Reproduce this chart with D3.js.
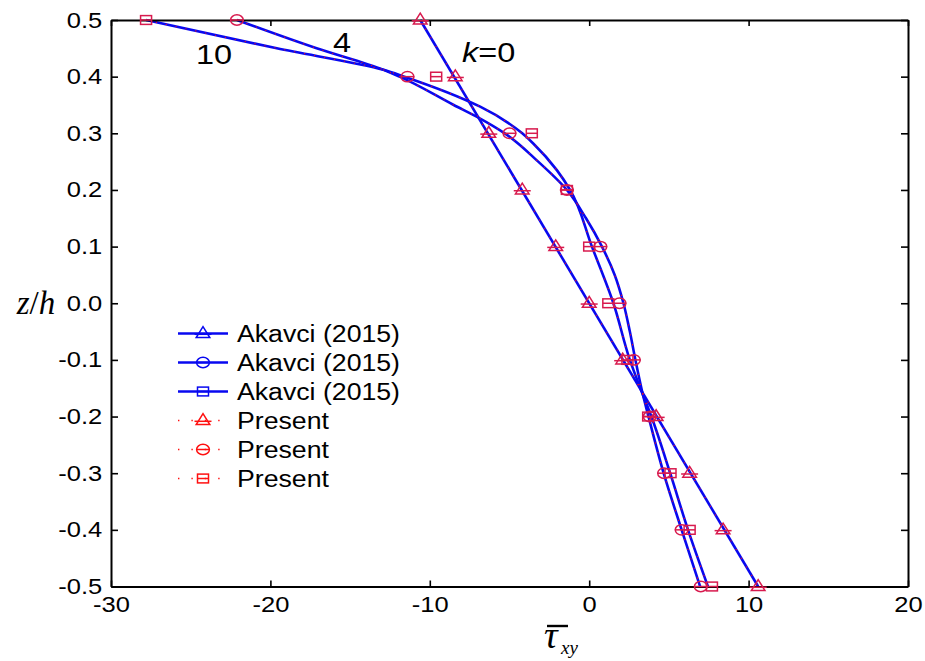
<!DOCTYPE html>
<html>
<head>
<meta charset="utf-8">
<script src="https://cdn.jsdelivr.net/npm/d3@7"></script>
<style>
  body { margin: 0; background: #fff; }
  svg { display: block; }
</style>
</head>
<body>
<svg id="chart" width="925" height="661"></svg>
<script>
// Through-thickness positions where the present solution is sampled
const zLevels = [0.5, 0.4, 0.3, 0.2, 0.1, 0.0, -0.1, -0.2, -0.3, -0.4, -0.5];

// Present results (markers), one value per z level
const presentK0  = [-10.6, -8.4, -6.3, -4.2, -2.1, 0.0, 2.1, 4.2, 6.3, 8.4, 10.6];
const presentK4  = [-22.1, -11.4, -5.0, -1.4, 0.7, 1.9, 2.8, 3.8, 4.7, 5.8, 7.0];
const presentK10 = [-27.8, -9.6, -3.6, -1.4, 0.0, 1.2, 2.4, 3.7, 5.1, 6.3, 7.7];

// Akavci (2015) profiles as [z/h, shear stress] pairs
const akavciK0 = [[0.5, -10.6], [-0.5, 10.6]];
const akavciK4 = [
  [0.5, -22.1], [0.45, -17.1], [0.412, -12.9], [0.4, -11.9], [0.35, -8.5],
  [0.326, -6.84], [0.3, -5.3], [0.25, -3.2], [0.2, -1.4], [0.15, -0.2],
  [0.1, 0.8], [0.05, 1.6], [0.0, 2.15], [-0.05, 2.55], [-0.1, 2.9],
  [-0.153, 3.3], [-0.2, 3.72], [-0.3, 4.67], [-0.4, 5.8], [-0.5, 6.96]
];
const akavciK10 = [
  [0.5, -27.8], [0.45, -19.6], [0.412, -12.9], [0.4, -11.6], [0.347, -6.84],
  [0.3, -4.2], [0.282, -3.51], [0.235, -2.03], [0.2, -1.2], [0.1, 0.17],
  [0.0, 1.52], [-0.1, 2.55], [-0.153, 3.25], [-0.2, 3.9], [-0.3, 5.08],
  [-0.4, 6.2], [-0.5, 7.45]
];

const xTicks = [-30, -20, -10, 0, 10, 20];
const yTicks = [0.5, 0.4, 0.3, 0.2, 0.1, 0.0, -0.1, -0.2, -0.3, -0.4, -0.5];
const legendLabels = ["Akavci (2015)", "Akavci (2015)", "Akavci (2015)", "Present", "Present", "Present"];
const legendSymbols = ["triangle", "circle", "square", "triangle", "circle", "square"];

const BLUE = "#0808f0";
const RED = "#ff1010";
const MARK = "#d81a4e";
const SANS = "'Liberation Sans', Arial, sans-serif";
const SERIF = "'Liberation Serif', 'Times New Roman', serif";
const STRETCH = 1.16;

const svg = d3.select("#chart");
const x = d3.scaleLinear().domain([-30, 20]).range([111, 908]);
const y = d3.scaleLinear().domain([-0.5, 0.5]).range([586.5, 20]);

// plain hyphen-minus for negative tick labels
const fmtX = d => String(d3.format("d")(d)).replace("\u2212", "-");
const fmtY = d => String(d3.format(".1f")(d)).replace("\u2212", "-");

const line = d3.line()
  .x(d => x(d[1]))
  .y(d => y(d[0]))
  .curve(d3.curveMonotoneY);

const profiles = [akavciK0, akavciK4, akavciK10];

// Akavci curves: solid blue
svg.append("g").selectAll("path").data(profiles).join("path")
  .attr("d", line)
  .attr("fill", "none")
  .attr("stroke", BLUE)
  .attr("stroke-width", 2.6);

// Present curves: red dotted on top of the blue ones
svg.append("g").selectAll("path").data(profiles).join("path")
  .attr("d", line)
  .attr("fill", "none")
  .attr("stroke", RED)
  .attr("stroke-width", 1.1)
  .attr("stroke-dasharray", "1.1,9");

// Axes with inward ticks on all four sides
function styleAxis(g) {
  g.select(".domain").attr("stroke", "#000").attr("stroke-width", 2);
  g.selectAll(".tick line").attr("stroke", "#000").attr("stroke-width", 1.6);
  g.selectAll(".tick text")
    .attr("fill", "#000")
    .style("font-family", SANS)
    .style("font-size", "22px");
}

svg.append("g")
  .attr("transform", `translate(0,${y(-0.5)})`)
  .call(d3.axisBottom(x).tickValues(xTicks).tickSize(-6).tickSizeOuter(0).tickPadding(10)
    .tickFormat(fmtX))
  .call(styleAxis)
  .call(g => g.selectAll(".tick text").attr("transform", `scale(${STRETCH},1)`));

svg.append("g")
  .attr("transform", `translate(0,${y(0.5)})`)
  .call(d3.axisTop(x).tickValues(xTicks).tickSize(-6).tickSizeOuter(0).tickFormat(""))
  .call(styleAxis);

svg.append("g")
  .attr("transform", `translate(${x(-30)},0)`)
  .call(d3.axisLeft(y).tickValues(yTicks).tickSize(-7).tickSizeOuter(0).tickPadding(7.5)
    .tickFormat(fmtY))
  .call(styleAxis)
  .call(g => g.selectAll(".tick text").attr("transform", `scale(${STRETCH},1)`));

svg.append("g")
  .attr("transform", `translate(${x(20)},0)`)
  .call(d3.axisRight(y).tickValues(yTicks).tickSize(-7).tickSizeOuter(0).tickFormat(""))
  .call(styleAxis);

// Marker shapes, each with a bar through its centre
function drawMarker(g, kind, color) {
  g.attr("fill", "none").attr("stroke", color).attr("stroke-width", 1.5);
  if (kind === "triangle") {
    g.append("path").attr("d", "M0,-6.8L6.8,4L-6.8,4Z");
    g.append("path").attr("d", "M-8.5,0.8H8.5");
  } else if (kind === "circle") {
    g.append("ellipse").attr("rx", 6.4).attr("ry", 5.2);
    g.append("path").attr("d", "M-6.8,0H6.8");
  } else {
    g.append("rect").attr("x", -5.5).attr("y", -4.4).attr("width", 11).attr("height", 8.8);
    g.append("path").attr("d", "M-5.5,0H5.5");
  }
}

const presentSets = [
  { values: presentK0, kind: "triangle" },
  { values: presentK4, kind: "circle" },
  { values: presentK10, kind: "square" }
];

presentSets.forEach(set => {
  const pts = zLevels.map((z, i) => [z, set.values[i]]);
  svg.append("g").selectAll("g").data(pts).join("g")
    .attr("transform", d => `translate(${x(d[1])},${y(d[0])})`)
    .each(function () { drawMarker(d3.select(this), set.kind, MARK); });
});

// Curve labels for the power-law index
function stretchedText(px, py, size, family) {
  return svg.append("text")
    .attr("transform", `translate(${px},${py}) scale(${STRETCH},1)`)
    .style("font-family", family || SANS)
    .style("font-size", size + "px")
    .attr("fill", "#000");
}
stretchedText(196, 64, 28).text("10");
stretchedText(333, 52, 28).text("4");
const kLabel = stretchedText(462, 62, 28);
kLabel.append("tspan").style("font-style", "italic").text("k");
kLabel.append("tspan").text("=0");

// Legend
const legendRows = [333.5, 362.5, 391.5, 420.5, 449.5, 478.5];
const legend = svg.append("g");
legendLabels.forEach((label, i) => {
  const yy = legendRows[i];
  const isPresent = i >= 3;
  const row = legend.append("g");
  row.append("line")
    .attr("x1", 178).attr("x2", 228).attr("y1", yy).attr("y2", yy)
    .attr("stroke", isPresent ? RED : BLUE)
    .attr("stroke-width", isPresent ? 1.4 : 2.4)
    .attr("stroke-dasharray", isPresent ? "1.4,12" : null);
  const m = row.append("g").attr("transform", `translate(203,${yy})`);
  drawMarker(m, legendSymbols[i], isPresent ? RED : BLUE);
  row.append("text")
    .attr("transform", `translate(237,${yy + 8}) scale(${STRETCH},1)`)
    .style("font-family", SANS)
    .style("font-size", "23px")
    .attr("fill", "#000")
    .text(label);
});

// Axis titles
const zt = svg.append("text")
  .attr("x", 36).attr("y", 314)
  .attr("text-anchor", "middle")
  .style("font-family", SERIF)
  .style("font-size", "33px")
  .attr("fill", "#000");
zt.append("tspan").style("font-style", "italic").text("z");
zt.append("tspan").text("/");
zt.append("tspan").style("font-style", "italic").text("h");

svg.append("text")
  .attr("x", 544).attr("y", 648)
  .style("font-family", SERIF)
  .style("font-style", "italic")
  .style("font-size", "38px")
  .attr("fill", "#000")
  .text("τ");
svg.append("line")
  .attr("x1", 547).attr("x2", 568).attr("y1", 626).attr("y2", 626)
  .attr("stroke", "#000").attr("stroke-width", 2.4);
svg.append("text")
  .attr("x", 561).attr("y", 654)
  .style("font-family", SERIF)
  .style("font-style", "italic")
  .style("font-size", "19px")
  .attr("fill", "#000")
  .text("xy");
</script>
</body>
</html>
